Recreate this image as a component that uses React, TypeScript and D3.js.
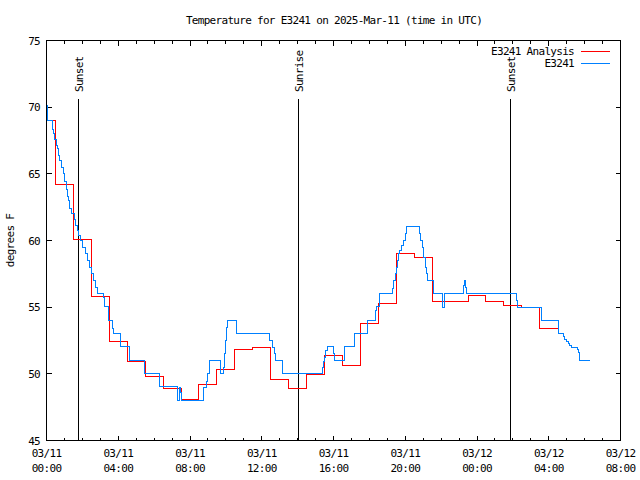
import React from "react";
import * as d3 from "d3";

const TITLE = "Temperature for E3241 on 2025-Mar-11 (time in UTC)";
const Y_LABEL = "degrees F";
const START_UTC = Date.UTC(2025, 2, 11, 0, 0);
const SPAN_HOURS = 32;

const yTicks = [45, 50, 55, 60, 65, 70, 75];

// Analysis (hourly values, drawn as centred steps)
const analysisHours = [
  0, 1, 2, 3, 4, 5, 6, 7, 8, 9, 10, 11, 12, 13, 14, 15, 16, 17, 18, 19, 20,
  21, 22, 23, 24, 25, 26, 27, 28,
];
const analysisTemps = [
  69.0, 64.2, 60.1, 55.8, 52.45, 50.9, 49.8, 48.9, 48.1, 49.2, 50.3, 51.8,
  51.95, 49.55, 48.9, 49.95, 51.4, 50.65, 53.75, 55.3, 59.0, 58.75, 55.4,
  55.4, 55.85, 55.4, 55.1, 55.0, 53.4,
];

// Observations (hours after 03/11 00:00 UTC, step after)
const obsHours = [
  0.0, 0.03, 0.08, 0.35, 0.41, 0.47, 0.54, 0.6, 0.66, 0.73, 0.86, 0.92, 1.03,
  1.1, 1.19, 1.25, 1.31, 1.38, 1.57, 1.63, 1.72, 1.8, 1.91, 2.03, 2.15, 2.27,
  2.38, 2.5, 2.6, 2.72, 2.85, 3.15, 3.21, 3.44, 3.66, 3.72, 4.11, 4.62, 5.45,
  6.29, 7.3, 7.4, 7.47, 7.53, 8.74, 8.92, 8.98, 9.11, 9.72, 9.85, 9.9, 10.0,
  10.04, 10.09, 10.6, 12.45, 12.6, 12.69, 12.77, 13.14, 15.37, 15.42, 15.51,
  15.57, 15.65, 16.02, 16.07, 16.63, 17.19, 17.87, 18.33, 18.4, 18.54, 19.29,
  19.36, 19.46, 19.51, 19.57, 19.64, 19.7, 19.79, 19.88, 20.01, 20.07, 20.77,
  20.86, 20.96, 21.03, 21.13, 21.18, 21.24, 21.55, 22.07, 22.2, 23.26, 23.32,
  23.36, 23.42, 26.2, 26.26, 27.59, 28.52, 28.81, 28.89, 28.99, 29.08, 29.17,
  29.27, 29.58, 29.64, 29.69, 29.73, 30.25,
];
const obsTemps = [
  70.1, 69.6, 69.0, 68.3, 68.0, 67.6, 67.1, 66.9, 66.4, 66.0, 65.5, 65.0, 64.4,
  63.8, 63.3, 63.0, 62.4, 62.0, 61.6, 61.1, 60.75, 60.4, 60.0, 59.5, 59.0,
  58.5, 58.0, 57.5, 57.0, 56.5, 56.0, 55.75, 55.05, 54.0, 53.4, 53.0, 52.05,
  51.0, 50.0, 49.05, 48.0, 49.0, 48.6, 48.0, 49.0, 49.4, 50.0, 51.0, 50.0,
  50.5, 51.5, 52.5, 53.5, 54.0, 53.0, 52.5, 52.0, 51.5, 51.0, 50.0, 50.5,
  50.95, 51.25, 51.75, 52.05, 51.5, 51.0, 52.05, 53.0, 54.0, 54.75, 55.05,
  56.0, 56.4, 57.0, 57.5, 58.0, 58.5, 59.0, 59.25, 59.6, 60.0, 60.5, 61.05,
  60.5, 60.0, 59.5, 58.75, 58.0, 57.5, 57.0, 56.0, 55.0, 56.0, 56.6, 57.0,
  56.5, 56.0, 55.5, 55.0, 54.0, 53.0, 52.8, 52.6, 52.4, 52.3, 52.1, 52.0,
  51.8, 51.6, 51.4, 51.0, 51.0,
];

const sunEventLabels = ["Sunset", "Sunrise", "Sunset"];
const sunEventHours = [1.78, 14.07, 25.88];
const SUN_LINE_TOP = 70.6;

const seriesNames = ["E3241 Analysis", "E3241"];
const seriesColors = ["#ff0000", "#0080ff"];

const FONT = "'DejaVu Sans Mono', monospace";

const toDate = (h: number) => new Date(START_UTC + h * 3600 * 1000);

export default function App() {
  const W = 640;
  const H = 480;
  const left = 46.5;
  const right = 620.5;
  const top = 40.5;
  const bottom = 440.5;

  const x = d3
    .scaleUtc()
    .domain([toDate(0), toDate(SPAN_HOURS)])
    .range([left, right]);
  const y = d3.scaleLinear().domain([45, 75]).range([bottom, top]);

  const majorTicks = x.ticks(d3.utcHour.every(4)!);
  const minorTicks = x.ticks(d3.utcHour.every(1)!);
  const fmtDate = d3.utcFormat("%m/%d");
  const fmtTime = d3.utcFormat("%H:%M");

  const px = (v: number) => Math.round(v - 0.5) + 0.5;

  // histeps for analysis
  const histPts: [number, number][] = [];
  analysisHours.forEach((h, i) => {
    const h0 = Math.max(0, h - 0.5);
    const h1 = Math.min(SPAN_HOURS, h + 0.5);
    histPts.push([h0, analysisTemps[i]]);
    histPts.push([h1, analysisTemps[i]]);
  });
  const straight = d3
    .line<[number, number]>()
    .x((d) => px(x(toDate(d[0]))))
    .y((d) => px(y(d[1])));
  const analysisPath = straight(histPts) || "";

  const obsPts: [number, number][] = obsHours.map((h, i) => [h, obsTemps[i]]);
  const stepLine = d3
    .line<[number, number]>()
    .x((d) => px(x(toDate(d[0]))))
    .y((d) => px(y(d[1])))
    .curve(d3.curveStepAfter);
  const obsPath = stepLine(obsPts) || "";

  const textStyle = {
    fontFamily: FONT,
    fontSize: 11,
    letterSpacing: -0.7,
    fill: "#000",
  } as const;

  const MAJ = 5;
  const MIN = 3;

  return (
    <svg
      width={W}
      height={H}
      style={{
        display: "block",
        background: "#fff",
        position: "absolute",
        left: 0,
        top: 0,
      }}
    >
      <rect x={0} y={0} width={W} height={H} fill="#fff" />
      <text x={334} y={24} textAnchor="middle" {...textStyle}>
        {TITLE}
      </text>

      {/* ticks */}
      <g stroke="#000" strokeWidth={1} shapeRendering="crispEdges">
        {minorTicks.map((t, i) => {
          const xx = px(x(t));
          return (
            <g key={"mn" + i}>
              <line x1={xx} x2={xx} y1={bottom} y2={bottom - MIN} />
              <line x1={xx} x2={xx} y1={top} y2={top + MIN} />
            </g>
          );
        })}
        {majorTicks.map((t, i) => {
          const xx = px(x(t));
          return (
            <g key={"mj" + i}>
              <line x1={xx} x2={xx} y1={bottom} y2={bottom - MAJ} />
              <line x1={xx} x2={xx} y1={top} y2={top + MAJ} />
            </g>
          );
        })}
        {yTicks.map((v) => {
          const yy = px(y(v));
          return (
            <g key={"yt" + v}>
              <line x1={left} x2={left + MAJ} y1={yy} y2={yy} />
              <line x1={right} x2={right - MAJ} y1={yy} y2={yy} />
            </g>
          );
        })}
      </g>

      {/* tick labels */}
      {yTicks.map((v) => (
        <text
          key={"yl" + v}
          x={40}
          y={y(v) + 4}
          textAnchor="end"
          {...textStyle}
        >
          {v}
        </text>
      ))}
      {majorTicks.map((t, i) => (
        <g key={"xl" + i}>
          <text x={x(t)} y={457} textAnchor="middle" {...textStyle}>
            {fmtDate(t)}
          </text>
          <text x={x(t)} y={472} textAnchor="middle" {...textStyle}>
            {fmtTime(t)}
          </text>
        </g>
      ))}

      <text
        transform={`translate(14,${(top + bottom) / 2}) rotate(-90)`}
        textAnchor="middle"
        {...textStyle}
      >
        {Y_LABEL}
      </text>

      {/* sun events */}
      <g>
        {sunEventHours.map((h, i) => {
          const xx = px(x(toDate(h)));
          return (
            <g key={"sun" + i}>
              <line
                x1={xx}
                x2={xx}
                y1={Math.round(y(SUN_LINE_TOP))}
                y2={bottom}
                stroke="#000"
                strokeWidth={1}
                shapeRendering="crispEdges"
              />
              <text
                transform={`translate(${xx + 4.5},92) rotate(-90)`}
                textAnchor="start"
                {...textStyle}
              >
                {sunEventLabels[i]}
              </text>
            </g>
          );
        })}
      </g>

      {/* data */}
      <path
        d={analysisPath}
        fill="none"
        stroke={seriesColors[0]}
        strokeWidth={1}
        shapeRendering="crispEdges"
      />
      <path
        d={obsPath}
        fill="none"
        stroke={seriesColors[1]}
        strokeWidth={1}
        shapeRendering="crispEdges"
      />

      {/* legend */}
      {seriesNames.map((name, i) => {
        const ly = 50.5 + i * 12.5;
        return (
          <g key={"lg" + i}>
            <text x={574} y={ly + 4} textAnchor="end" {...textStyle}>
              {name}
            </text>
            <line
              x1={581}
              x2={610}
              y1={Math.round(ly) + 0.5}
              y2={Math.round(ly) + 0.5}
              stroke={seriesColors[i]}
              strokeWidth={1}
              shapeRendering="crispEdges"
            />
          </g>
        );
      })}

      {/* border */}
      <rect
        x={left}
        y={top}
        width={right - left}
        height={bottom - top}
        fill="none"
        stroke="#000"
        strokeWidth={1}
        shapeRendering="crispEdges"
      />
    </svg>
  );
}
